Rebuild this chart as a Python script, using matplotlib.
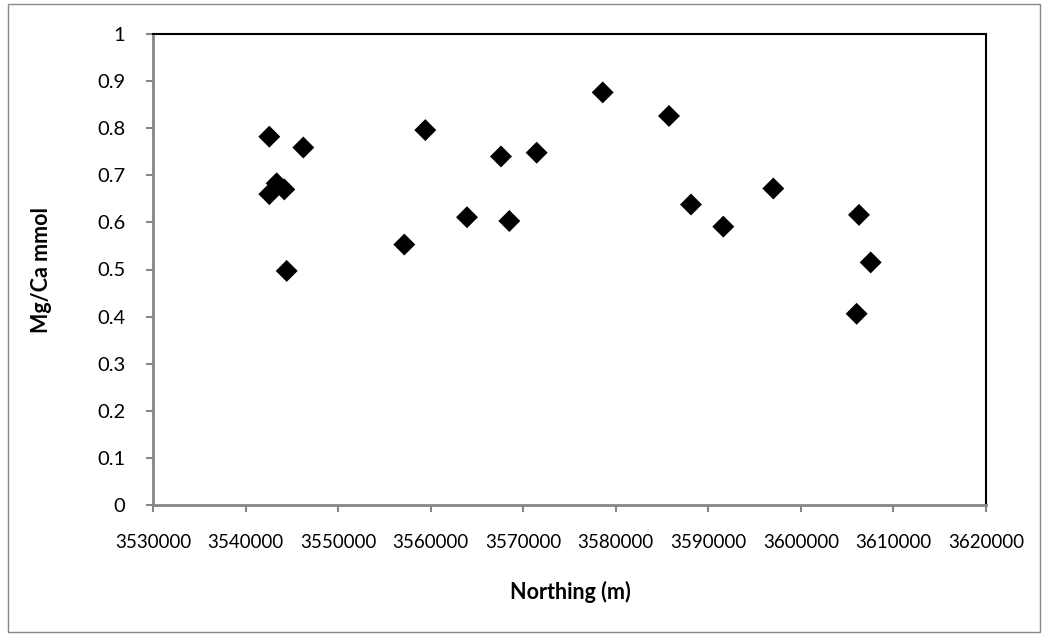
import matplotlib
matplotlib.use("Agg")
import matplotlib.pyplot as plt
from matplotlib.patches import Rectangle

# Sample locations (northing, m) and measured Mg/Ca ratios
northing = [3542566, 3546240, 3543360, 3542566, 3544186, 3544445,
            3559420, 3567598, 3571454, 3563925, 3568497, 3557152,
            3578586, 3585749, 3588126, 3591617, 3597021,
            3606276, 3607540, 3606025]
mg_ca = [0.782, 0.759, 0.683, 0.660, 0.670, 0.497,
         0.796, 0.740, 0.748, 0.611, 0.603, 0.553,
         0.876, 0.826, 0.638, 0.591, 0.672,
         0.616, 0.515, 0.406]

x_ticks = [3530000, 3540000, 3550000, 3560000, 3570000, 3580000,
           3590000, 3600000, 3610000, 3620000]
y_ticks = [0, 0.1, 0.2, 0.3, 0.4, 0.5, 0.6, 0.7, 0.8, 0.9, 1]
y_tick_labels = ['0', '0.1', '0.2', '0.3', '0.4', '0.5', '0.6', '0.7',
                 '0.8', '0.9', '1']

plt.rcParams['font.family'] = ['Lato', 'DejaVu Sans']

W, H = 1046, 637
fig = plt.figure(figsize=(W / 100, H / 100), dpi=100)
fig.patch.set_facecolor('white')

# chart-area frame
fig.patches.append(Rectangle((8 / W, 1 - 632 / H), (1040 - 8) / W, (632 - 4) / H,
                             transform=fig.transFigure, fill=False,
                             edgecolor='#888888', linewidth=1.0))

ax = fig.add_axes([153 / W, 1 - 505 / H, (986 - 153) / W, (505 - 34) / H])
ax.scatter(northing, mg_ca, marker='D', s=125, color='black',
           edgecolors='none', zorder=3, clip_on=False)

ax.set_xlim(3530000, 3620000)
ax.set_ylim(0, 1)
ax.set_xticks(x_ticks)
ax.set_xticklabels([str(v) for v in x_ticks])
ax.set_yticks(y_ticks)
ax.set_yticklabels(y_tick_labels)

gray = '#868686'
for side in ('left', 'bottom'):
    ax.spines[side].set_color(gray)
    ax.spines[side].set_linewidth(2.0)
for side in ('top', 'right'):
    ax.spines[side].set_color('black')
    ax.spines[side].set_linewidth(1.5)

ax.tick_params(axis='x', direction='out', length=5, width=1.5, color=gray,
               pad=16, labelsize=13.5, labelcolor='black')
ax.tick_params(axis='y', direction='out', length=5, width=1.5, color=gray,
               pad=15, labelsize=14.5, labelcolor='black')

# axis titles
fig.text(570 / W, 1 - 592 / H, 'Northing (m)', fontsize=15.5,
         fontweight='bold', ha='center', va='center')
fig.text(42 / W, 1 - 270 / H, 'Mg/Ca mmol', fontsize=15.5,
         fontweight='bold', ha='center', va='center', rotation=90)

fig.savefig('out.png', dpi=100, facecolor='white')
